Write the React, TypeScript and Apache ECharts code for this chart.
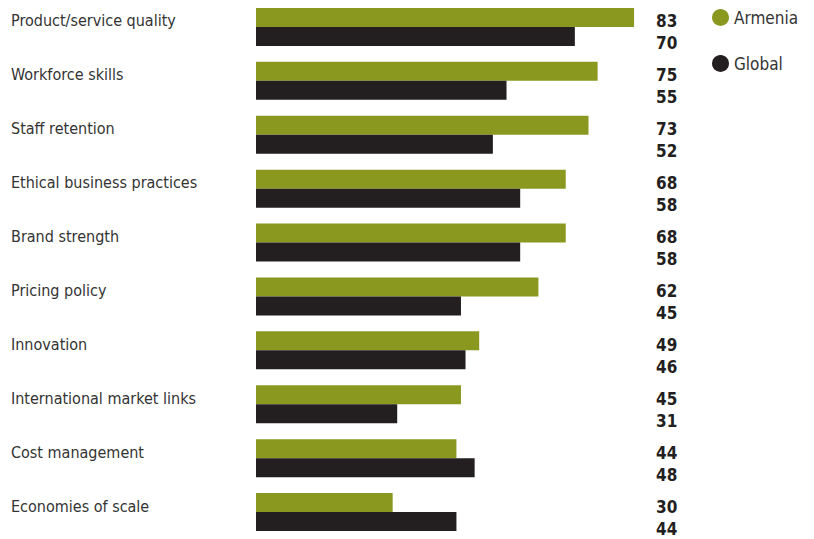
import React, { useEffect, useRef } from "react";
import * as echarts from "echarts";

const categories = [
  "Product/service quality",
  "Workforce skills",
  "Staff retention",
  "Ethical business practices",
  "Brand strength",
  "Pricing policy",
  "Innovation",
  "International market links",
  "Cost management",
  "Economies of scale",
];
const armenia = [83, 75, 73, 68, 68, 62, 49, 45, 44, 30];
const global = [70, 55, 52, 58, 58, 45, 46, 31, 48, 44];

const FONT = "'Liberation Sans Narrow', 'DejaVu Sans Condensed', 'Roboto Condensed', 'Liberation Sans', sans-serif";

export default function App() {
  const ref = useRef<HTMLDivElement>(null);
  useEffect(() => {
    if (!ref.current) return;
    const chart = echarts.init(ref.current, null, { renderer: "svg" });
    const mkLayout = (dy: number) => (params: any) => ({
      x: 656,
      y: params.rect.y + params.rect.height / 2 + dy,
      align: "left",
      verticalAlign: "middle",
    });
    chart.setOption({
      animation: false,
      backgroundColor: "#ffffff",
      legend: {
        orient: "vertical",
        left: 712,
        top: 9,
        padding: 0,
        icon: "circle",
        itemWidth: 17,
        itemHeight: 17,
        itemGap: 29,
        textStyle: { fontFamily: FONT, fontSize: 17, color: "#333333" },
        data: ["Armenia", "Global"],
      },
      grid: { left: 256, top: 0, width: 455.5, height: 540 },
      xAxis: {
        type: "value",
        min: 0,
        max: 100,
        show: false,
      },
      yAxis: {
        type: "category",
        inverse: true,
        data: categories,
        axisLine: { show: false },
        axisTick: { show: false },
        axisLabel: {
          align: "left",
          verticalAlign: "bottom",
          lineHeight: 12,
          margin: 245,
          fontFamily: FONT,
          fontSize: 16,
          color: "#333333",
        },
      },
      series: [
        {
          name: "Armenia",
          type: "bar",
          data: armenia,
          barWidth: 19,
          barGap: "0%",
          itemStyle: { color: "#8b9820" },
          label: {
            show: true,
            position: "right",
            fontFamily: FONT,
            fontSize: 17,
            fontWeight: "bold",
            color: "#231f20",
          },
          labelLayout: mkLayout(4),
        },
        {
          name: "Global",
          type: "bar",
          data: global,
          barWidth: 19,
          barGap: "0%",
          itemStyle: { color: "#231f20" },
          label: {
            show: true,
            position: "right",
            fontFamily: FONT,
            fontSize: 17,
            fontWeight: "bold",
            color: "#231f20",
          },
          labelLayout: mkLayout(7),
        },
      ],
    });
    return () => chart.dispose();
  }, []);
  return (
    <div
      ref={ref}
      style={{ position: "fixed", left: 0, top: 0, width: 814, height: 539 }}
    />
  );
}
